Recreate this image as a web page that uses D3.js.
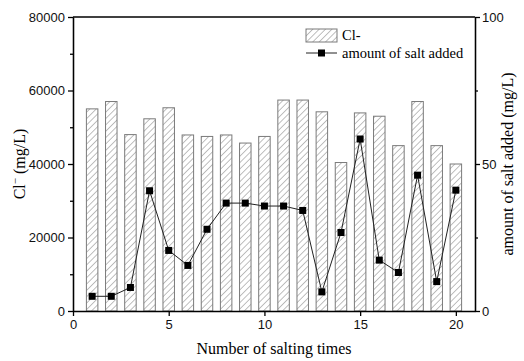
<!DOCTYPE html>
<html>
<head>
<meta charset="utf-8">
<script src="https://cdn.jsdelivr.net/npm/d3@7"></script>
<style>
  body { margin: 0; background: #fff; }
  svg { display: block; }
</style>
</head>
<body>
<div id="chart"></div>
<script>
// salting runs
var runs = [1, 2, 3, 4, 5, 6, 7, 8, 9, 10, 11, 12, 13, 14, 15, 16, 17, 18, 19, 20];
// Cl- concentration (mg/L), bars on left axis
var chloride = [55000, 57000, 48000, 52300, 55300, 47900, 47500, 47900, 45700, 47500,
                57400, 57400, 54200, 40400, 53900, 53000, 45000, 57000, 45000, 40000];
// amount of salt added (mg/L), line on right axis
var saltAdded = [5.0, 5.0, 8.0, 40.9, 20.6, 15.5, 27.8, 36.7, 36.7, 35.7,
                 35.7, 34.2, 6.5, 26.7, 58.5, 17.3, 13.1, 46.2, 10.0, 41.1];
var leftTicks = [0, 20000, 40000, 60000, 80000];
var rightTicks = [0, 50, 100];
var xTicks = [0, 5, 10, 15, 20];

var W = 524, H = 361;
var margin = {top: 17, right: 49, bottom: 50, left: 73};
var width = W - margin.left - margin.right,
    height = H - margin.top - margin.bottom;

var svg = d3.select("#chart")
    .append("svg")
        .attr("width", W)
        .attr("height", H);

var defs = svg.append("defs");
var hatch = defs.append("pattern")
    .attr("id", "hatch")
    .attr("patternUnits", "userSpaceOnUse")
    .attr("width", 4.5)
    .attr("height", 4.5)
    .attr("patternTransform", "rotate(45)");
hatch.append("rect").attr("width", 4.5).attr("height", 4.5).attr("fill", "#fff");
hatch.append("line")
    .attr("x1", 0).attr("y1", 0).attr("x2", 0).attr("y2", 4.5)
    .attr("stroke", "#8a8a8a").attr("stroke-width", 1.1);

var g = svg.append("g")
    .attr("transform", `translate(${margin.left}, ${margin.top})`);

var x = d3.scaleLinear().domain([0, 21]).range([0, width]);
var yLeft = d3.scaleLinear().domain([0, 80000]).range([height, 0]);
var yRight = d3.scaleLinear().domain([0, 100]).range([height, 0]);

var barW = x(0.6) - x(0);

// bars
g.selectAll(".bar")
    .data(runs)
    .enter()
    .append("rect")
    .attr("class", "bar")
    .attr("x", (d) => x(d) - barW / 2)
    .attr("y", (d, i) => yLeft(chloride[i]))
    .attr("width", barW)
    .attr("height", (d, i) => height - yLeft(chloride[i]))
    .attr("fill", "url(#hatch)")
    .attr("stroke", "#7a7a7a")
    .attr("stroke-width", 1);

// line
var line = d3.line()
    .x((d) => x(d))
    .y((d, i) => yRight(saltAdded[i]));
g.append("path")
    .datum(runs)
    .attr("fill", "none")
    .attr("stroke", "#222")
    .attr("stroke-width", 1)
    .attr("d", line);

g.selectAll(".pt")
    .data(runs)
    .enter()
    .append("rect")
    .attr("class", "pt")
    .attr("x", (d) => x(d) - 3.5)
    .attr("y", (d, i) => yRight(saltAdded[i]) - 3.5)
    .attr("width", 7)
    .attr("height", 7)
    .attr("fill", "#000");

// axes
var tickFont = "Liberation Sans, Arial, sans-serif";
var fmt = d3.format("d");
var xAxis = g.append("g")
    .attr("transform", `translate(0, ${height})`)
    .call(d3.axisBottom(x).tickValues(xTicks).tickFormat(fmt).tickSize(5).tickSizeOuter(0).tickPadding(4));
var leftAxis = g.append("g")
    .call(d3.axisLeft(yLeft).tickValues(leftTicks).tickFormat(fmt).tickSize(5).tickSizeOuter(0).tickPadding(3));
var leftMinor = g.append("g")
    .call(d3.axisLeft(yLeft).tickValues([10000, 30000, 50000, 70000]).tickSize(3).tickSizeOuter(0).tickFormat(""));
var rightAxis = g.append("g")
    .attr("transform", `translate(${width}, 0)`)
    .call(d3.axisRight(yRight).tickValues(rightTicks).tickFormat(fmt).tickSize(5).tickSizeOuter(0).tickPadding(2));
var rightMinor = g.append("g")
    .attr("transform", `translate(${width}, 0)`)
    .call(d3.axisRight(yRight).tickValues([25, 75]).tickSize(3).tickSizeOuter(0).tickFormat(""));

[xAxis, leftAxis, leftMinor, rightAxis, rightMinor].forEach(function(a) {
    a.selectAll("path, line").attr("stroke", "#000").attr("stroke-width", 1.3);
    a.selectAll("text")
        .attr("font-family", tickFont)
        .attr("font-size", 13)
        .attr("fill", "#111");
});

// top border
g.append("line")
    .attr("x1", 0).attr("x2", width)
    .attr("y1", 0).attr("y2", 0)
    .attr("stroke", "#000").attr("stroke-width", 1.3);

// axis titles
var serif = "Liberation Serif, Times New Roman, serif";
svg.append("text")
    .attr("x", margin.left + width / 2)
    .attr("y", 354)
    .attr("text-anchor", "middle")
    .attr("font-family", serif)
    .attr("font-size", 16)
    .text("Number of salting times");

var lt = svg.append("text")
    .attr("transform", `translate(25, ${margin.top + height / 2}) rotate(-90)`)
    .attr("text-anchor", "middle")
    .attr("font-family", serif)
    .attr("font-size", 16);
lt.append("tspan").text("Cl");
lt.append("tspan").attr("dy", -6).attr("font-size", 11).text("\u2212");
lt.append("tspan").attr("dy", 6).text(" (mg/L)");

svg.append("text")
    .attr("transform", `translate(513, ${margin.top + height / 2}) rotate(-90)`)
    .attr("text-anchor", "middle")
    .attr("font-family", serif)
    .attr("font-size", 16)
    .text("amount of salt added (mg/L)");

// legend
var legend = svg.append("g").attr("transform", "translate(306, 29)");
legend.append("rect")
    .attr("width", 31).attr("height", 13)
    .attr("fill", "url(#hatch)")
    .attr("stroke", "#7a7a7a");
legend.append("text")
    .attr("x", 36).attr("y", 11)
    .attr("font-family", serif).attr("font-size", 14.5)
    .text("Cl-");
legend.append("line")
    .attr("x1", 0).attr("x2", 31).attr("y1", 24).attr("y2", 24)
    .attr("stroke", "#222");
legend.append("rect")
    .attr("x", 12).attr("y", 20.5).attr("width", 7).attr("height", 7)
    .attr("fill", "#000");
legend.append("text")
    .attr("x", 36).attr("y", 29)
    .attr("font-family", serif).attr("font-size", 14.5)
    .text("amount of salt added");
</script>
</body>
</html>
